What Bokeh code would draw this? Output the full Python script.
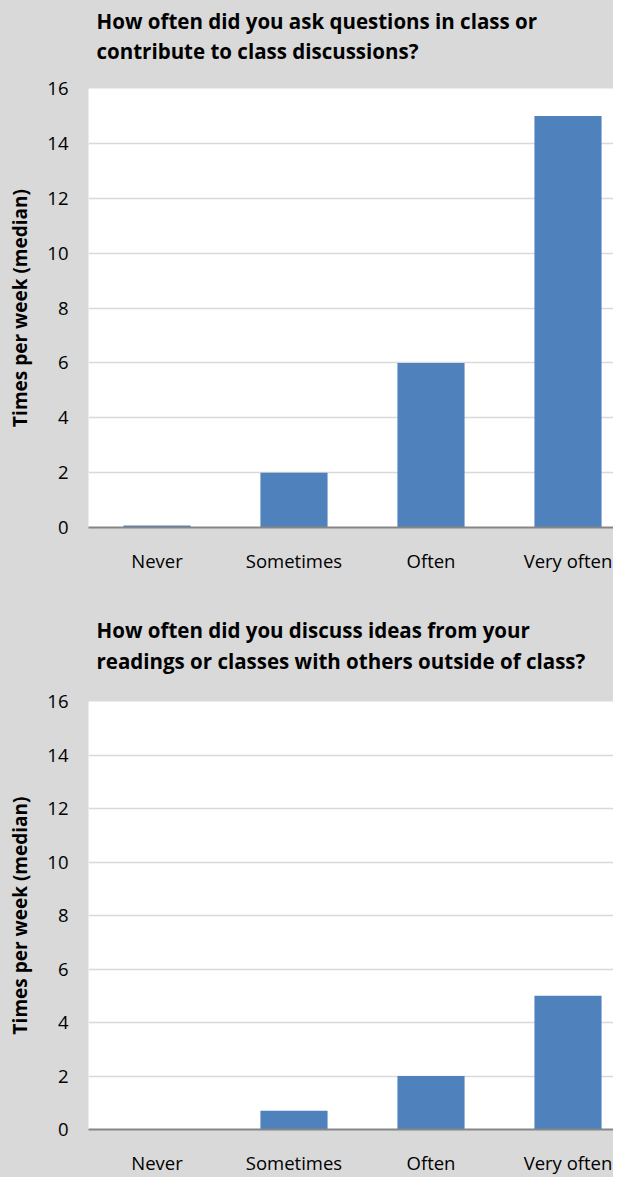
from bokeh.plotting import figure
from bokeh.models import Range1d, FixedTicker, Title
from bokeh.layouts import column
from bokeh.embed import file_html
from bokeh.resources import INLINE

categories = ["Never", "Sometimes", "Often", "Very often"]
values_q1 = [0.07, 2, 6, 15]
values_q2 = [0, 0.7, 2, 5]
title_q1 = ["How often did you ask questions in class or", "contribute to class discussions?"]
title_q2 = ["How often did you discuss ideas from your", "readings or classes with others outside of class?"]
y_ticks = [0, 2, 4, 6, 8, 10, 12, 14, 16]
y_label = "Times per week (median)"

BG = "#d9d9d9"
BAR = "#4f81bd"
FONT = "Open Sans"


def make(values, title_lines, height, top, bottom, gap, standoff_outer):
    xs = list(range(1, len(categories) + 1))
    p = figure(width=613, height=height, output_backend="svg", toolbar_location=None,
               x_range=Range1d(0.5, 0.5 + 525 / 137), y_range=Range1d(0, 16),
               min_border_left=88, min_border_right=0, min_border_top=top, min_border_bottom=bottom,
               background_fill_color="white", border_fill_color=BG, outline_line_color=None)
    p.title.visible = False
    # thin empty title used only as vertical spacing between the frame and the title lines
    p.add_layout(Title(text=" ", text_font=FONT, text_font_size="1px", standoff=gap), "above")
    for i, line in enumerate(reversed(title_lines)):
        t = Title(text=line, text_font=FONT, text_font_size="20.5px", text_font_style="bold",
                  text_color="#000000", align="left", offset=8,
                  standoff=0 if i == 0 else standoff_outer)
        p.add_layout(t, "above")
    p.vbar(x=xs, top=values, width=0.49, color=BAR, line_color=None)

    p.xgrid.visible = False
    p.ygrid.ticker = FixedTicker(ticks=y_ticks)
    p.ygrid.grid_line_color = BG
    p.ygrid.grid_line_width = 1.5

    ya = p.yaxis[0]
    ya.ticker = FixedTicker(ticks=y_ticks)
    ya.axis_line_color = None
    ya.major_tick_line_color = None
    ya.minor_tick_line_color = None
    ya.major_label_text_font = FONT
    ya.major_label_text_font_size = "18.5px"
    ya.major_label_text_color = "#000000"
    ya.major_label_standoff = 14
    ya.axis_label = y_label
    ya.axis_label_text_font = FONT
    ya.axis_label_text_font_size = "19px"
    ya.axis_label_text_font_style = "bold"
    ya.axis_label_text_color = "#000000"
    ya.axis_label_standoff = 11

    xa = p.xaxis[0]
    xa.ticker = FixedTicker(ticks=xs)
    xa.major_label_overrides = {x: c for x, c in zip(xs, categories)}
    xa.axis_line_color = "#868686"
    xa.axis_line_width = 2
    xa.major_tick_line_color = None
    xa.minor_tick_line_color = None
    xa.major_label_text_font = FONT
    xa.major_label_text_font_size = "18.5px"
    xa.major_label_text_color = "#000000"
    xa.major_label_standoff = 14
    return p


p1 = make(values_q1, title_q1, 600, 88, 73, 21, 0)
p2 = make(values_q2, title_q2, 577, 101, 44, 24, 2)
layout = column(p1, p2, spacing=0, styles={"background-color": BG})

open("out.html", "w").write(file_html(layout, INLINE))
